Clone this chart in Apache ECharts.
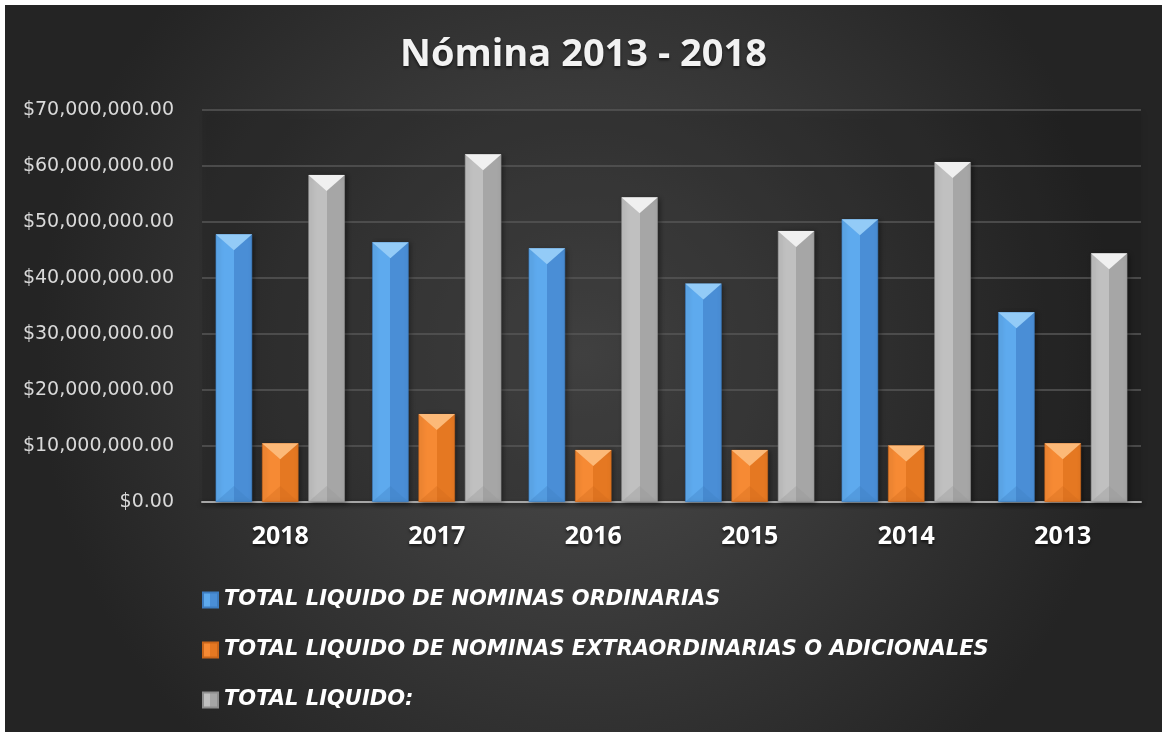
<!DOCTYPE html>
<html>
<head>
<meta charset="utf-8">
<script src="https://cdn.jsdelivr.net/npm/echarts@6/dist/echarts.min.js"></script>
<style>
html,body{margin:0;padding:0;background:#ffffff;}
#chart{position:absolute;left:5px;top:5px;width:1157px;height:727px;}
</style>
</head>
<body>
<div id="chart"></div>
<script>
var titleText = 'Nómina 2013 - 2018';
var categories = ['2018', '2017', '2016', '2015', '2014', '2013'];
var seriesNames = [
  'TOTAL LIQUIDO DE NOMINAS ORDINARIAS',
  'TOTAL LIQUIDO DE NOMINAS EXTRAORDINARIAS O ADICIONALES',
  'TOTAL LIQUIDO:'
];
var ordinarias = [47800000, 46400000, 45300000, 39000000, 50500000, 33900000];
var extraordinarias = [10500000, 15700000, 9300000, 9300000, 10100000, 10500000];
var totalLiquido = [58400000, 62100000, 54400000, 48400000, 60700000, 44400000];
var yTicks = { min: 0, max: 70000000, interval: 10000000 };

var palettes = [
  { left: '#5eaaee', right: '#4a8ed6', top: '#93cbf7', bottom: '#3f80c4', border: '#3d7cc0' },
  { left: '#f68a34', right: '#e57822', top: '#fcb978', bottom: '#d06a1c', border: '#c9661b' },
  { left: '#c0c0c0', right: '#a6a6a6', top: '#f0f0f0', bottom: '#979797', border: '#8e8e8e' }
];
var dataSets = [ordinarias, extraordinarias, totalLiquido];

function money(v) {
  var s = Math.round(v).toString().replace(/\B(?=(\d{3})+(?!\d))/g, ',');
  return '$' + s + '.00';
}

var BW = 36.5, GAP = '27%';
var series = [];
dataSets.forEach(function (d, i) {
  var p = palettes[i];
  series.push({
    name: seriesNames[i],
    type: 'bar',
    data: d,
    barWidth: BW,
    barGap: GAP,
    itemStyle: {
      color: new echarts.graphic.LinearGradient(0, 0, 1, 0, [
        { offset: 0, color: p.left }, { offset: 0.5, color: p.left },
        { offset: 0.5, color: p.right }, { offset: 1, color: p.right }
      ]),
      borderColor: p.border,
      borderWidth: 0.6,
      shadowBlur: 5,
      shadowOffsetX: 2,
      shadowOffsetY: 1,
      shadowColor: 'rgba(0,0,0,0.45)'
    },
    z: 2
  });
});
// top bevels (laid out on xAxis 0, like the bars)
dataSets.forEach(function (d, i) {
  var p = palettes[i];
  series.push({
    name: 'top' + i,
    type: 'pictorialBar',
    xAxisIndex: 0,
    data: d,
    barWidth: BW,
    barGap: GAP,
    symbol: 'path://M0,0 L10,0 L5,4.4 Z',
    symbolSize: ['100%', 16],
    symbolPosition: 'end',
    itemStyle: { color: p.top },
    z: 4,
    silent: true,
    legendHoverLink: false
  });
});
// bottom bevels (separate hidden category axis so the layout matches)
dataSets.forEach(function (d, i) {
  var p = palettes[i];
  series.push({
    name: 'bot' + i,
    type: 'pictorialBar',
    xAxisIndex: 1,
    data: d,
    barWidth: BW,
    barGap: GAP,
    symbol: 'path://M0,4.4 L10,4.4 L5,0 Z',
    symbolSize: ['100%', 16],
    symbolPosition: 'start',
    itemStyle: { color: p.bottom, opacity: 0.35 },
    z: 3,
    silent: true,
    legendHoverLink: false
  });
});

var chart = echarts.init(document.getElementById('chart'));
chart.setOption({
  animation: false,
  backgroundColor: new echarts.graphic.RadialGradient(0.5, 0.48, 0.75, [
    { offset: 0, color: '#4d4d4d' },
    { offset: 1, color: '#242424' }
  ]),
  title: {
    text: titleText,
    left: 'center',
    top: 26,
    textStyle: {
      fontFamily: 'Open Sans',
      fontWeight: 'bold',
      fontSize: 38,
      color: '#f2f2f2',
      textShadowColor: 'rgba(0,0,0,0.6)',
      textShadowBlur: 3,
      textShadowOffsetY: 2
    }
  },
  grid: {
    left: 197,
    top: 105,
    right: 21,
    bottom: 230,
    show: true,
    backgroundColor: 'rgba(30,30,30,0.18)',
    borderWidth: 0,
    shadowBlur: 6,
    shadowColor: 'rgba(0,0,0,0.35)',
    shadowOffsetX: 2,
    shadowOffsetY: 2
  },
  legend: {
    data: seriesNames,
    orient: 'vertical',
    left: 197,
    top: 584,
    padding: 0,
    icon: 'rect',
    itemWidth: 15,
    itemHeight: 15,
    itemGap: 28,
    selectedMode: false,
    textStyle: {
      fontFamily: 'DejaVu Sans',
      fontWeight: 'bold',
      fontStyle: 'italic',
      fontSize: 21,
      lineHeight: 22,
      color: '#ffffff',
      padding: [0, 0, 0, 1]
    }
  },
  xAxis: [{
    type: 'category',
    data: categories,
    axisLine: { show: true, lineStyle: { color: '#a6a6a6', width: 2, shadowBlur: 4, shadowColor: 'rgba(0,0,0,0.6)', shadowOffsetY: 2 } },
    axisTick: { show: false },
    axisLabel: {
      margin: 22,
      fontFamily: 'Open Sans',
      fontWeight: 'bold',
      fontSize: 25,
      color: '#ffffff',
      textShadowColor: 'rgba(0,0,0,0.6)',
      textShadowBlur: 3,
      textShadowOffsetY: 2
    }
  }, {
    type: 'category',
    data: categories,
    show: false
  }],
  yAxis: {
    type: 'value',
    min: yTicks.min,
    max: yTicks.max,
    interval: yTicks.interval,
    axisLine: { show: false },
    axisTick: { show: false },
    splitLine: { show: true, lineStyle: { color: '#575757', width: 1.5 } },
    axisLabel: {
      margin: 28,
      fontFamily: 'DejaVu Sans',
      fontSize: 19,
      color: '#d9d9d9',
      formatter: function (v) { return money(v); }
    }
  },
  series: series
});
</script>
</body>
</html>
